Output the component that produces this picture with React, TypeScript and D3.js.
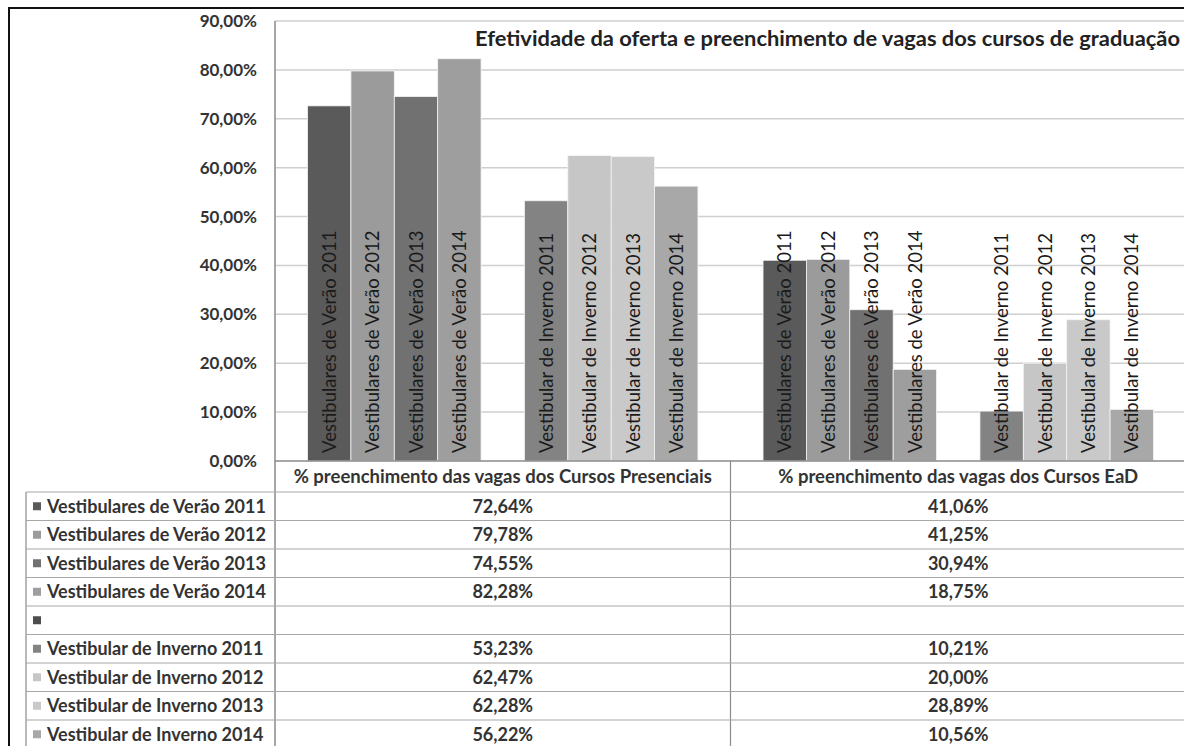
import * as d3 from "d3";

const title = "Efetividade da oferta e preenchimento de vagas dos cursos de graduação";

const categories = [
  "% preenchimento das vagas dos Cursos Presenciais",
  "% preenchimento das vagas dos Cursos EaD",
];

const seriesNames = [
  "Vestibulares de Verão 2011",
  "Vestibulares de Verão 2012",
  "Vestibulares de Verão 2013",
  "Vestibulares de Verão 2014",
  "",
  "Vestibular de Inverno 2011",
  "Vestibular de Inverno 2012",
  "Vestibular de Inverno 2013",
  "Vestibular de Inverno 2014",
];

const seriesColors = [
  "#5a5a5a",
  "#9b9b9b",
  "#717171",
  "#9e9e9e",
  "#4d4d4d",
  "#838383",
  "#c6c6c6",
  "#c9c9c9",
  "#a8a8a8",
];

// values per series, in order of categories
const presenciais = [0.7264, 0.7978, 0.7455, 0.8228, null, 0.5323, 0.6247, 0.6228, 0.5622];
const ead = [0.4106, 0.4125, 0.3094, 0.1875, null, 0.1021, 0.2, 0.2889, 0.1056];

const yTicks = [0, 0.1, 0.2, 0.3, 0.4, 0.5, 0.6, 0.7, 0.8, 0.9];

const width = 1184;
const height = 746;
const plot = { left: 275, right: 1186, top: 21, bottom: 461 };
const table = { left: 26, rowTop: 492, rowH: 28.5 };
const font = "Lato, 'Open Sans', sans-serif";

const ptBR = d3.formatLocale({ decimal: ",", thousands: ".", grouping: [3], currency: ["R$", ""] });
const pct = ptBR.format(".2%");

export default function App() {
  const values = [presenciais, ead];

  const x0 = d3.scaleBand<string>().domain(categories).range([plot.left, plot.right]);
  const x1 = d3
    .scaleBand<number>()
    .domain(seriesNames.map((_, i) => i))
    .range([0, x0.bandwidth()])
    .paddingInner(0)
    .paddingOuter(0.75);
  const y = d3.scaleLinear().domain([0, 0.9]).range([plot.bottom, plot.top]);

  const colDivider = x0(categories[1])!;

  return (
    <svg
      width={width}
      height={height}
      style={{ position: "absolute", left: 0, top: 0, background: "#fff" }}
      fontFamily={font}
    >
      {/* outer frame */}
      <line x1={8} x2={width} y1={8} y2={8} stroke="#111" strokeWidth={2} />
      <line x1={9} x2={9} y1={8} y2={height} stroke="#111" strokeWidth={2} />

      {/* gridlines */}
      {yTicks.slice(1).map((t) => (
        <line key={t} x1={plot.left} x2={plot.right} y1={y(t)} y2={y(t)} stroke="#cfcfcf" strokeWidth={1.5} />
      ))}

      {/* title */}
      <text x={475} y={46} fontSize={20} fontWeight={700} fill="#222" textLength={705} lengthAdjust="spacingAndGlyphs">
        {title}
      </text>

      {/* y tick labels */}
      {yTicks.map((t) => (
        <text key={t} x={257} y={y(t)} dy="0.35em" textAnchor="end" fontSize={17} fontWeight={700} fill="#333">
          {pct(t)}
        </text>
      ))}

      {/* bars */}
      {categories.map((c, ci) => (
        <g key={c} transform={`translate(${x0(c)},0)`}>
          {values[ci].map((v, si) =>
            v == null ? null : (
              <rect
                key={si}
                x={x1(si)}
                y={y(v)}
                width={x1.bandwidth()}
                height={plot.bottom - y(v)}
                fill={seriesColors[si]}
                stroke="#f4f4f4"
                strokeWidth={0.8}
              />
            )
          )}
          {values[ci].map((v, si) => {
            if (v == null) return null;
            const cx = x1(si)! + x1.bandwidth() / 2;
            return (
              <text
                key={"l" + si}
                transform={`translate(${cx},453) rotate(-90)`}
                dy="0.36em"
                fontSize={18.5}
                fill="#1a1a1a"
              >
                {seriesNames[si]}
              </text>
            );
          })}
        </g>
      ))}

      {/* axes */}
      <line x1={plot.left} x2={plot.left} y1={plot.top} y2={height} stroke="#8a8a8a" strokeWidth={1.5} />
      <line x1={plot.left} x2={plot.right} y1={plot.bottom} y2={plot.bottom} stroke="#8a8a8a" strokeWidth={1.5} />
      <line x1={colDivider} x2={colDivider} y1={plot.bottom} y2={height} stroke="#8a8a8a" strokeWidth={1.2} />

      {/* category labels (table header) */}
      {categories.map((c) => (
        <text
          key={c}
          x={x0(c)! + x0.bandwidth() / 2}
          y={(plot.bottom + table.rowTop) / 2}
          dy="0.35em"
          textAnchor="middle"
          fontSize={18.5}
          fontWeight={700}
          fill="#333"
        >
          {c}
        </text>
      ))}

      {/* data table */}
      <line x1={table.left} x2={table.left} y1={table.rowTop} y2={height} stroke="#8a8a8a" strokeWidth={1.2} />
      {seriesNames.map((name, si) => {
        const top = table.rowTop + si * table.rowH;
        const mid = top + table.rowH / 2;
        return (
          <g key={si}>
            <line x1={table.left} x2={plot.right} y1={top} y2={top} stroke="#a8a8a8" strokeWidth={1.2} />
            <rect x={33} y={mid - 4} width={8} height={8} fill={seriesColors[si]} />
            <text x={47} y={mid} dy="0.35em" fontSize={18} fontWeight={700} fill="#333">
              {name}
            </text>
            {categories.map((c, ci) => {
              const v = values[ci][si];
              return v == null ? null : (
                <text
                  key={c}
                  x={x0(c)! + x0.bandwidth() / 2}
                  y={mid}
                  dy="0.35em"
                  textAnchor="middle"
                  fontSize={18}
                  fontWeight={700}
                  fill="#333"
                >
                  {pct(v)}
                </text>
              );
            })}
          </g>
        );
      })}
    </svg>
  );
}
